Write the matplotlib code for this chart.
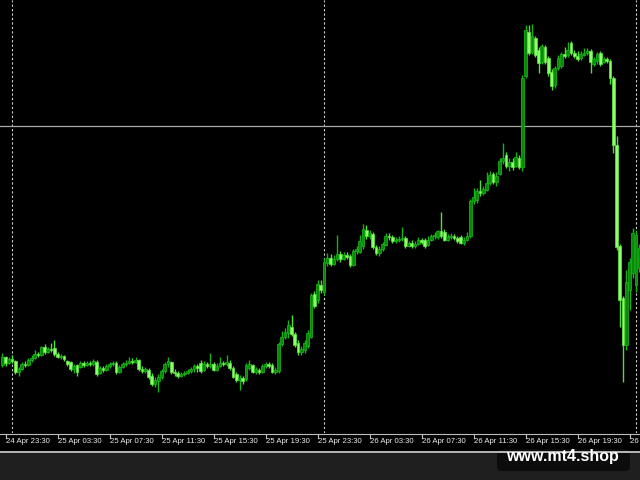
import numpy as np
import matplotlib
matplotlib.use("Agg")
import matplotlib.pyplot as plt
from matplotlib.patches import Rectangle, FancyBboxPatch
from matplotlib.lines import Line2D
from matplotlib.transforms import blended_transform_factory

# ---- data: M15 candles (price in chart points) ----
opens = [68, 76, 70, 74, 72, 61, 64, 69, 68, 73, 75, 79, 78, 86, 81, 84, 85, 79, 76, 77,
         72, 71, 64, 68, 66, 70, 68, 70, 69, 71, 60, 65, 63, 67, 69, 70, 61, 66, 69, 70,
         72, 71, 73, 64, 62, 63, 57, 49, 52, 56, 62, 69, 71, 61, 60, 57, 59, 60, 62, 64,
         67, 70, 63, 69, 67, 69, 63, 67, 70, 69, 70, 65, 59, 53, 55, 54, 65, 68, 61, 63,
         61, 67, 69, 68, 61, 62, 89, 96, 100, 106, 99, 90, 81, 83, 87, 96, 139, 133, 148, 141,
         170, 175, 169, 174, 179, 174, 178, 177, 168, 182, 181, 187, 203, 197, 199, 186, 180, 184, 188, 197,
         196, 192, 193, 194, 195, 187, 190, 187, 189, 193, 193, 188, 193, 197, 196, 202, 201, 193, 196, 197,
         195, 196, 190, 193, 197, 232, 233, 242, 240, 243, 250, 259, 251, 259, 272, 278, 267, 271, 267, 275,
         266, 357, 401, 381, 395, 383, 371, 386, 375, 361, 348, 365, 367, 379, 378, 390, 380, 377, 375, 378,
         380, 382, 369, 372, 380, 371, 374, 372, 355, 288, 187, 135, 88, 143, 160, 148, 165]
highs = [80, 77, 76, 78, 73, 66, 71, 72, 75, 78, 83, 81, 87, 89, 86, 90, 93, 81, 79, 78,
         73, 72, 69, 69, 72, 72, 72, 72, 74, 73, 67, 67, 69, 71, 72, 72, 68, 71, 73, 76,
         75, 76, 74, 67, 66, 65, 60, 56, 59, 64, 71, 76, 72, 64, 62, 61, 62, 64, 66, 69,
         69, 73, 72, 71, 80, 71, 70, 76, 72, 78, 73, 67, 61, 58, 57, 70, 73, 69, 66, 65,
         69, 71, 71, 70, 66, 91, 102, 105, 113, 118, 101, 93, 87, 93, 103, 140, 142, 153, 153, 175,
         180, 179, 178, 198, 182, 181, 181, 179, 184, 187, 198, 209, 208, 203, 201, 188, 187, 191, 200, 200,
         198, 196, 197, 206, 197, 192, 193, 192, 196, 195, 195, 197, 199, 201, 203, 221, 204, 199, 200, 199,
         197, 198, 196, 201, 234, 245, 245, 253, 247, 261, 262, 261, 261, 275, 290, 281, 275, 275, 281, 278,
         358, 408, 408, 409, 397, 386, 389, 388, 377, 364, 367, 378, 381, 386, 391, 392, 383, 382, 382, 385,
         385, 384, 376, 381, 382, 376, 376, 374, 357, 297, 189, 137, 163, 175, 205, 203, 189]
lows = [66, 67, 69, 70, 59, 57, 63, 66, 67, 71, 74, 76, 77, 79, 80, 81, 77, 75, 74, 72,
        67, 62, 60, 57, 65, 66, 67, 67, 67, 57, 59, 61, 62, 65, 67, 59, 60, 65, 67, 69,
        69, 70, 62, 60, 60, 54, 47, 46, 41, 54, 60, 66, 59, 57, 55, 56, 57, 59, 60, 61,
        61, 60, 62, 65, 65, 62, 62, 66, 67, 67, 63, 55, 51, 43, 49, 52, 63, 60, 59, 59,
        60, 65, 65, 60, 59, 60, 87, 94, 95, 97, 86, 78, 78, 80, 85, 95, 125, 130, 140, 138,
        167, 167, 168, 172, 171, 173, 174, 166, 167, 179, 180, 184, 194, 194, 184, 178, 177, 182, 187, 193,
        190, 190, 191, 192, 185, 186, 185, 185, 188, 189, 185, 187, 192, 194, 194, 195, 192, 192, 194, 193,
        190, 189, 188, 192, 195, 229, 230, 237, 238, 242, 248, 249, 247, 258, 269, 265, 262, 263, 266, 264,
        262, 355, 378, 379, 376, 360, 369, 369, 357, 343, 345, 363, 365, 375, 376, 378, 375, 372, 373, 377,
        378, 360, 367, 369, 367, 370, 370, 349, 280, 183, 106, 51, 83, 123, 155, 141, 161]
closes = [76, 70, 74, 72, 61, 64, 69, 68, 73, 75, 79, 78, 86, 81, 84, 83, 79, 76, 77, 74,
          69, 64, 67, 61, 70, 68, 70, 69, 72, 59, 65, 63, 67, 69, 70, 61, 66, 69, 70, 72,
          71, 73, 64, 62, 64, 56, 49, 53, 56, 62, 69, 72, 61, 60, 57, 59, 60, 62, 64, 67,
          65, 62, 69, 67, 69, 63, 67, 70, 69, 71, 65, 56, 53, 55, 52, 68, 69, 61, 64, 61,
          67, 69, 67, 61, 63, 89, 96, 101, 108, 99, 88, 81, 84, 90, 100, 138, 127, 149, 143, 171,
          175, 169, 174, 179, 174, 178, 176, 168, 182, 184, 192, 204, 197, 200, 186, 180, 184, 189, 197, 196,
          192, 193, 194, 195, 187, 190, 187, 189, 193, 191, 187, 193, 197, 198, 202, 197, 193, 196, 197, 195,
          192, 190, 193, 197, 232, 236, 242, 240, 244, 250, 258, 251, 257, 272, 275, 267, 271, 266, 276, 266,
          355, 403, 380, 397, 378, 370, 387, 371, 360, 347, 365, 375, 379, 377, 383, 380, 377, 374, 379, 380,
          382, 371, 374, 379, 369, 374, 372, 355, 288, 186, 133, 88, 151, 171, 200, 198, 185]

tick_bars = [1, 17, 33, 49, 65, 81, 97, 113, 129, 145, 161, 177, 193]
tick_labels = ["24 Apr 23:30", "25 Apr 03:30", "25 Apr 07:30", "25 Apr 11:30",
               "25 Apr 15:30", "25 Apr 19:30", "25 Apr 23:30", "26 Apr 03:30",
               "26 Apr 07:30", "26 Apr 11:30", "26 Apr 15:30", "26 Apr 19:30",
               "26 Apr 23:30"]
day_separators = [3, 99, 195]
hline_level = 307

# ---- figure ----
W, H = 640, 480
fig = plt.figure(figsize=(6.4, 4.8), dpi=100, facecolor="black")

def fy(py):
    return 1 - py / H

# bottom grey strip
fig.add_artist(Rectangle((0, 0), 1, fy(453), transform=fig.transFigure,
                         facecolor="#1f1f1f", edgecolor="none", zorder=0))

ax = fig.add_axes([0, fy(433), 1, 433 / H])
ax.set_facecolor("black")
for s in ax.spines.values():
    s.set_visible(False)
ax.set_xticks([])
ax.set_yticks([])
ax.set_xlim((0 - 2.25) / 3.25, (W - 2.25) / 3.25)
ax.set_ylim(0, 433)

o = np.array(opens, float)
hi = np.array(highs, float)
lo = np.array(lows, float)
c = np.array(closes, float)
x = np.arange(len(o))
bull = c >= o

# separators and horizontal line
for d in day_separators:
    ax.axvline(d, color="#d0d0d0", lw=0.8, ls=(0, (2, 2)), zorder=1)
ax.axhline(hline_level, color="#a8a8a8", lw=0.9, zorder=1)

wick_cols = np.where(bull, "#14b414", "#50e030")
ax.vlines(x, lo, hi, colors=wick_cols, lw=1.0, zorder=2)
body_bottom = np.minimum(o, c)
body_h = np.maximum(np.abs(c - o), 1.5)
ax.bar(x, body_h, bottom=body_bottom, width=0.8,
       color=np.where(bull, "#078a07", "#8dff6c"),
       edgecolor=np.where(bull, "#1cbc1c", "#60e840"), linewidth=0.5, zorder=3)

# axis line, ticks, labels
fig.add_artist(Line2D([0, 1], [fy(434), fy(434)], transform=fig.transFigure,
                      color="#bdbdbd", lw=0.8))
tr = blended_transform_factory(ax.transData, fig.transFigure)
for b, lab in zip(tick_bars, tick_labels):
    fig.add_artist(Line2D([b, b], [fy(434), fy(438)], transform=tr,
                          color="#bdbdbd", lw=0.8))
    t = fig.text(0, 0, lab, transform=tr, fontsize=5.6,
                 family=["Liberation Sans", "DejaVu Sans"], color="#ececec",
                 ha="left", va="center")
    t.set_position((b + 0.3, fy(441.5)))

# watermark box
fig.add_artist(FancyBboxPatch((497 / W, fy(471)), (630 - 497) / W, (471 - 449) / H,
                              boxstyle="round,pad=0,rounding_size=0.008",
                              transform=fig.transFigure, facecolor="#0c0c0c",
                              edgecolor="none", zorder=1))
fig.add_artist(Line2D([0, 1], [fy(452), fy(452)], transform=fig.transFigure,
                      color="#e8e8e8", lw=1.1, zorder=2))
fig.text(562 / W, fy(456), "www.mt4.shop", fontsize=11.5, fontweight="bold",
         family=["Liberation Sans", "DejaVu Sans"], color="white",
         ha="center", va="center", zorder=5)

fig.savefig("out.png", dpi=100, facecolor="black")
